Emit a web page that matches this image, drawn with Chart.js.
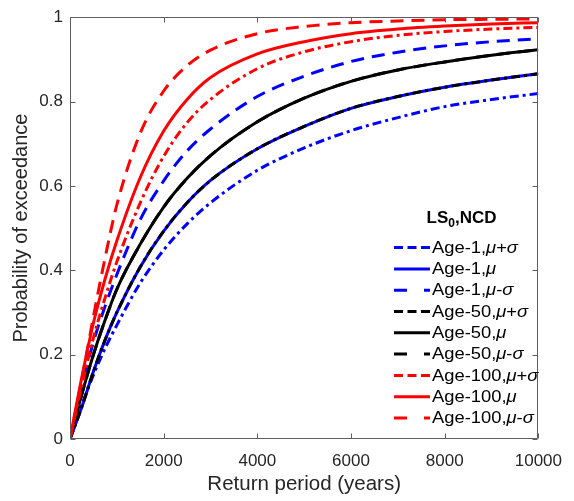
<!DOCTYPE html>
<html>
<head>
<meta charset="utf-8">
<script src="https://cdn.jsdelivr.net/npm/chart.js@4"></script>
<style>
  html, body { margin: 0; padding: 0; background: #ffffff; }
  #wrap { width: 574px; height: 501px; }
</style>
</head>
<body>
<div id="wrap"><canvas id="c" width="574" height="501"></canvas></div>
<script>
// Return period grid (years) shared by every curve
const returnPeriod = [0, 250, 500, 750, 1000, 1500, 2000, 2500, 3000, 4000, 5000, 6000, 7000, 8000, 9000, 10000];

// Probability of exceedance of LS0 (NCD) for each age / parameter case
const age1MuPlusSigma    = [0, 0.080, 0.152, 0.215, 0.270, 0.370, 0.448, 0.510, 0.560, 0.637, 0.690, 0.731, 0.762, 0.788, 0.805, 0.819];
const age1Mu             = [0, 0.075, 0.160, 0.235, 0.300, 0.408, 0.493, 0.560, 0.613, 0.688, 0.741, 0.784, 0.812, 0.834, 0.851, 0.866];
const age1MuMinusSigma   = [0, 0.125, 0.230, 0.315, 0.390, 0.520, 0.612, 0.683, 0.735, 0.812, 0.860, 0.895, 0.917, 0.932, 0.942, 0.949];
const age50MuPlusSigma   = [0, 0.075, 0.160, 0.235, 0.300, 0.408, 0.493, 0.560, 0.613, 0.688, 0.741, 0.784, 0.812, 0.834, 0.851, 0.866];
const age50Mu            = [0, 0.105, 0.200, 0.282, 0.355, 0.462, 0.550, 0.618, 0.672, 0.752, 0.808, 0.848, 0.875, 0.894, 0.910, 0.923];
const age50MuMinusSigma  = [0, 0.105, 0.200, 0.282, 0.355, 0.462, 0.550, 0.618, 0.672, 0.752, 0.808, 0.848, 0.875, 0.894, 0.910, 0.923];
const age100MuPlusSigma  = [0, 0.125, 0.240, 0.335, 0.420, 0.560, 0.670, 0.750, 0.805, 0.878, 0.918, 0.942, 0.957, 0.966, 0.972, 0.976];
const age100Mu           = [0, 0.145, 0.275, 0.380, 0.470, 0.620, 0.730, 0.805, 0.857, 0.913, 0.942, 0.961, 0.972, 0.979, 0.984, 0.987];
const age100MuMinusSigma = [0, 0.140, 0.290, 0.430, 0.555, 0.725, 0.825, 0.885, 0.922, 0.961, 0.978, 0.987, 0.991, 0.994, 0.995, 0.996];

// Series names (Greek letters are set in italics when drawn)
const seriesLabels = [
  'Age-1,μ+σ', 'Age-1,μ', 'Age-1,μ-σ',
  'Age-50,μ+σ', 'Age-50,μ', 'Age-50,μ-σ',
  'Age-100,μ+σ', 'Age-100,μ', 'Age-100,μ-σ'
];
const seriesValues = [
  age1MuPlusSigma, age1Mu, age1MuMinusSigma,
  age50MuPlusSigma, age50Mu, age50MuMinusSigma,
  age100MuPlusSigma, age100Mu, age100MuMinusSigma
];

// Axis ticks
const xTickValues = [0, 2000, 4000, 6000, 8000, 10000];
const xTickLabels = ['0', '2000', '4000', '6000', '8000', '10000'];
const yTickValues = [0, 0.2, 0.4, 0.6, 0.8, 1];
const yTickLabels = ['0', '0.2', '0.4', '0.6', '0.8', '1'];

// Styling
const FONT = '"Liberation Sans", Arial, Helvetica, sans-serif';
const TEXT = '#262626';
const lineColors = ['#0000ff', '#0000ff', '#0000ff', '#000000', '#000000', '#000000', '#ff0000', '#ff0000', '#ff0000'];
const lineKinds = ['dashdot', 'solid', 'dash', 'dashdot', 'solid', 'dash', 'dashdot', 'solid', 'dash'];
const dashFor = { solid: [], dash: [13, 8], dashdot: [9, 4, 3, 4] };
const legendDashFor = { solid: [], dash: [13, 17, 13], dashdot: [9, 4.5] };

const datasets = seriesValues.map((vals, i) => ({
  label: seriesLabels[i],
  data: returnPeriod.map((t, k) => ({ x: t, y: vals[k] })),
  borderColor: lineColors[i],
  backgroundColor: lineColors[i],
  borderWidth: 3,
  borderDash: dashFor[lineKinds[i]],
  pointRadius: 0,
  fill: false,
  cubicInterpolationMode: 'monotone',
  // later series are painted over earlier ones
  order: seriesValues.length - i
}));

// Axes box with inward ticks on all four sides
const axisBox = {
  id: 'axisBox',
  afterDatasetsDraw(chart) {
    const { ctx, chartArea: a, scales: { x, y } } = chart;
    const L = Math.round(a.left) + 0.5, R = Math.round(a.right) - 0.5;
    const T = Math.round(a.top) + 0.5, B = Math.round(a.bottom) - 0.5;
    const len = 5;
    ctx.save();
    ctx.strokeStyle = '#5e5e5e';
    ctx.lineWidth = 1;
    ctx.setLineDash([]);
    ctx.beginPath();
    ctx.rect(L, T, R - L, B - T);
    xTickValues.forEach(v => {
      const px = Math.round(x.getPixelForValue(v)) + 0.5;
      ctx.moveTo(px, B); ctx.lineTo(px, B - len);
      ctx.moveTo(px, T); ctx.lineTo(px, T + len);
    });
    yTickValues.forEach(v => {
      const py = Math.round(y.getPixelForValue(v)) + 0.5;
      ctx.moveTo(L, py); ctx.lineTo(L + len, py);
      ctx.moveTo(R, py); ctx.lineTo(R - len, py);
    });
    ctx.stroke();
    ctx.restore();
  }
};

// Legend with a subscripted title and italic Greek symbols
const mixedLegend = {
  id: 'mixedLegend',
  afterDraw(chart) {
    const { ctx } = chart;
    const lineX0 = 394, lineX1 = 430, textX = 432;
    const rowY0 = 247.6, rowStep = 21.3;
    const stretch = 1.08;
    ctx.save();
    // title: LS0,NCD with subscript 0
    const tMain = 'bold 17px ' + FONT, tSub = 'bold 12px ' + FONT;
    ctx.font = tMain; const wLS = ctx.measureText('LS').width; const wN = ctx.measureText(',NCD').width;
    ctx.font = tSub; const w0 = ctx.measureText('0').width;
    const total = wLS + w0 + wN;
    let tx = 461.5 - total / 2;
    const ty = 222.8;
    ctx.fillStyle = '#000000';
    ctx.textBaseline = 'alphabetic';
    ctx.textAlign = 'left';
    ctx.font = tMain; ctx.fillText('LS', tx, ty); tx += wLS;
    ctx.font = tSub; ctx.fillText('0', tx, ty + 4); tx += w0;
    ctx.font = tMain; ctx.fillText(',NCD', tx, ty);

    chart.data.datasets.forEach((ds, i) => {
      const yy = rowY0 + i * rowStep;
      ctx.strokeStyle = ds.borderColor;
      ctx.lineWidth = 3;
      ctx.lineCap = 'butt';
      ctx.setLineDash(legendDashFor[lineKinds[i]]);
      ctx.beginPath();
      ctx.moveTo(lineX0, yy);
      ctx.lineTo(lineX1, yy);
      ctx.stroke();
      ctx.setLineDash([]);
      // label text, Greek letters in italics, slightly widened
      ctx.save();
      ctx.translate(textX, yy + 0.5);
      ctx.scale(stretch, 1);
      let x = 0;
      ctx.fillStyle = '#000000';
      ctx.textBaseline = 'middle';
      for (const ch of ds.label) {
        const greek = (ch === 'μ' || ch === 'σ');
        ctx.font = (greek ? 'italic ' : '') + '17px ' + FONT;
        ctx.fillText(ch, x, 0);
        x += ctx.measureText(ch).width;
      }
      ctx.restore();
    });
    ctx.restore();
  }
};

new Chart(document.getElementById('c'), {
  type: 'line',
  data: { datasets },
  options: {
    responsive: false,
    animation: false,
    devicePixelRatio: 1,
    layout: { padding: { top: 15, right: 30, left: 0, bottom: 0 } },
    plugins: { legend: { display: false }, tooltip: { enabled: false } },
    scales: {
      x: {
        type: 'linear',
        min: 0, max: 10000,
        afterBuildTicks: s => { s.ticks = xTickValues.map(v => ({ value: v })); },
        afterFit: s => { s.height = 62; },
        grid: { display: false, drawTicks: false },
        border: { display: false },
        ticks: {
          padding: 12,
          maxRotation: 0,
          autoSkip: false,
          color: TEXT,
          font: { family: FONT, size: 17 },
          callback: (v, i) => xTickLabels[i]
        },
        title: {
          display: true,
          text: 'Return period (years)',
          color: TEXT,
          font: { family: FONT, size: 20.5 },
          padding: { top: 0, bottom: 4 }
        }
      },
      y: {
        type: 'linear',
        min: 0, max: 1,
        afterBuildTicks: s => { s.ticks = yTickValues.map(v => ({ value: v })); },
        afterFit: s => { s.width = 70; },
        grid: { display: false, drawTicks: false },
        border: { display: false },
        ticks: {
          padding: 7,
          autoSkip: false,
          color: TEXT,
          font: { family: FONT, size: 17 },
          callback: (v, i) => yTickLabels[i]
        },
        title: {
          display: true,
          text: 'Probability of exceedance',
          color: TEXT,
          font: { family: FONT, size: 20 },
          padding: { top: 9, bottom: 0 }
        }
      }
    }
  },
  plugins: [axisBox, mixedLegend]
});
</script>
</body>
</html>
